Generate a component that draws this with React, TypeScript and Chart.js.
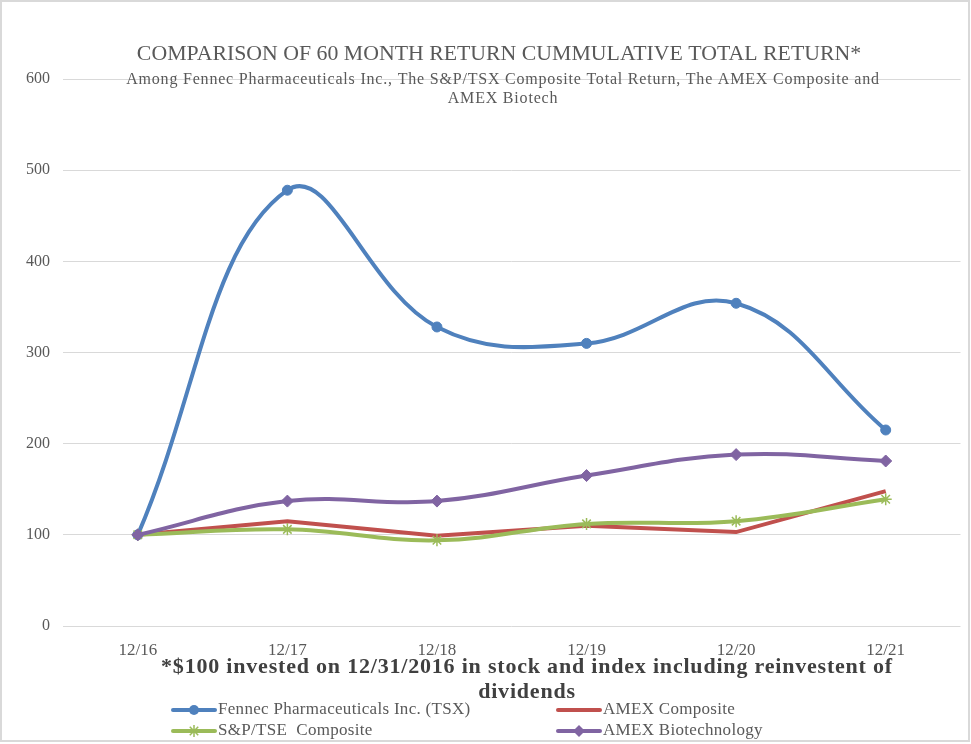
import React, { useEffect, useRef } from 'react';
import { Chart, registerables } from 'chart.js';

Chart.register(...registerables);

const categories = ['12/16', '12/17', '12/18', '12/19', '12/20', '12/21'];
const fennecValues = [100, 478, 328, 310, 354, 215];
const amexCompositeValues = [100, 115, 99, 110, 103, 148];
const spTseValues = [100, 106, 94, 112, 115, 139];
const amexBiotechValues = [100, 137, 137, 165, 188, 181];
const seriesNames = [
  'Fennec Pharmaceuticals Inc. (TSX)',
  'AMEX Composite',
  'S&P/TSE  Composite',
  'AMEX Biotechnology',
];
const seriesColors = ['#4F81BD', '#C0504D', '#9BBB59', '#8064A2'];
const seriesMarkers = ['circle', 'none', 'star', 'rectRot'];
const yMin = 0;
const yMax = 600;
const yStep = 100;
const titleText = 'COMPARISON OF 60 MONTH RETURN CUMMULATIVE TOTAL RETURN*';
const subtitleLines = [
  'Among Fennec Pharmaceuticals Inc., The S&P/TSX Composite Total Return, The AMEX Composite and',
  'AMEX Biotech',
];
const footnoteLines = [
  '*$100 invested on 12/31/2016 in stock and index including reinvestent of',
  'dividends',
];

const FONT = '"Liberation Serif", "Times New Roman", serif';
const TEXT_GRAY = '#595959';

function drawMarker(ctx: CanvasRenderingContext2D, kind: string, x: number, y: number, color: string) {
  ctx.save();
  ctx.fillStyle = color;
  ctx.strokeStyle = color;
  if (kind === 'circle') {
    ctx.beginPath();
    ctx.arc(x, y, 5, 0, Math.PI * 2);
    ctx.fill();
  } else if (kind === 'rectRot') {
    const r = 6;
    ctx.beginPath();
    ctx.moveTo(x, y - r);
    ctx.lineTo(x + r, y);
    ctx.lineTo(x, y + r);
    ctx.lineTo(x - r, y);
    ctx.closePath();
    ctx.fill();
  } else if (kind === 'star') {
    const r = 6;
    ctx.lineWidth = 1.5;
    ctx.beginPath();
    ctx.moveTo(x, y - r);
    ctx.lineTo(x, y + r);
    const d = r * 0.707;
    ctx.moveTo(x - d, y - d);
    ctx.lineTo(x + d, y + d);
    ctx.moveTo(x - d, y + d);
    ctx.lineTo(x + d, y - d);
    ctx.stroke();
  }
  ctx.restore();
}

function setSpacing(ctx: CanvasRenderingContext2D, v: string) {
  (ctx as any).letterSpacing = v;
}

const textPlugin = {
  id: 'customTexts',
  afterDraw(chart: any) {
    const ctx: CanvasRenderingContext2D = chart.ctx;
    ctx.save();
    ctx.textAlign = 'center';
    ctx.textBaseline = 'middle';
    ctx.fillStyle = TEXT_GRAY;
    ctx.font = `21.8px ${FONT}`;
    setSpacing(ctx, '0px');
    ctx.fillText(titleText, 497, 52);
    ctx.font = `16px ${FONT}`;
    setSpacing(ctx, '0.8px');
    subtitleLines.forEach((l, i) => ctx.fillText(l, 501, 78 + i * 19));
    ctx.font = `bold 22px ${FONT}`;
    setSpacing(ctx, '0.8px');
    ctx.fillStyle = '#404040';
    footnoteLines.forEach((l, i) => ctx.fillText(l, 525, 665 + i * 25));
    setSpacing(ctx, '0px');

    // legend in two columns
    const colX = [171, 556];
    const rowY = [708, 729];
    const lineLen = 42;
    chart.data.datasets.forEach((ds: any, i: number) => {
      const col = i % 2;
      const row = Math.floor(i / 2);
      const x0 = colX[col];
      const y0 = rowY[row];
      ctx.save();
      ctx.strokeStyle = ds.borderColor;
      ctx.lineWidth = 4;
      ctx.lineCap = 'round';
      ctx.beginPath();
      ctx.moveTo(x0, y0);
      ctx.lineTo(x0 + lineLen, y0);
      ctx.stroke();
      ctx.restore();
      drawMarker(ctx, seriesMarkers[i], x0 + lineLen / 2, y0, ds.borderColor);
      ctx.textAlign = 'left';
      ctx.fillStyle = TEXT_GRAY;
      ctx.font = `17px ${FONT}`;
      setSpacing(ctx, '0.3px');
      ctx.fillText(ds.label, x0 + lineLen + 3, y0);
      setSpacing(ctx, '0px');
    });
    ctx.restore();
  },
};

export default function App() {
  const canvasRef = useRef<HTMLCanvasElement | null>(null);

  useEffect(() => {
    if (!canvasRef.current) return;
    const seriesValues = [fennecValues, amexCompositeValues, spTseValues, amexBiotechValues];
    const tensions = [0.4, 0, 0.4, 0.4];
    const chart = new Chart(canvasRef.current, {
      type: 'line',
      data: {
        labels: categories,
        datasets: seriesValues.map((vals, i) => ({
          label: seriesNames[i],
          data: vals,
          borderColor: seriesColors[i],
          backgroundColor: seriesColors[i],
          pointBackgroundColor: seriesColors[i],
          pointBorderColor: seriesColors[i],
          borderWidth: 4,
          tension: tensions[i],
          pointStyle: seriesMarkers[i] === 'none' ? 'circle' : (seriesMarkers[i] as any),
          pointRadius: seriesMarkers[i] === 'none' ? 0 : seriesMarkers[i] === 'circle' ? 5 : 6,
          pointBorderWidth: seriesMarkers[i] === 'star' ? 1.5 : 1,
          fill: false,
          order: seriesValues.length - i,
        })),
      },
      options: {
        animation: false,
        responsive: false,
        layout: { padding: { top: 77, right: 5, left: 0, bottom: 0 } },
        plugins: {
          legend: { display: false },
          title: { display: false },
          tooltip: { enabled: false },
        },
        scales: {
          x: {
            offset: true,
            grid: { display: false, drawTicks: false },
            border: { display: false },
            ticks: {
              color: TEXT_GRAY,
              font: { family: FONT, size: 17 },
              padding: 14,
              maxRotation: 0,
            },
            afterFit: (s: any) => {
              s.height = 114;
            },
          },
          y: {
            min: yMin,
            max: yMax,
            grid: { color: '#d9d9d9', lineWidth: 1, drawTicks: false },
            border: { display: false },
            ticks: {
              stepSize: yStep,
              color: TEXT_GRAY,
              font: { family: FONT, size: 16 },
              padding: 13,
            },
            afterFit: (s: any) => {
              s.width = 61;
            },
          },
        },
      },
      plugins: [textPlugin],
    });
    return () => chart.destroy();
  }, []);

  return (
    <div
      style={{
        position: 'absolute',
        left: 0,
        top: 0,
        width: 970,
        height: 742,
        boxSizing: 'border-box',
        border: '2px solid #d9d9d9',
        background: '#fff',
      }}
    >
      <canvas ref={canvasRef} width={966} height={738} style={{ display: 'block' }} />
    </div>
  );
}
